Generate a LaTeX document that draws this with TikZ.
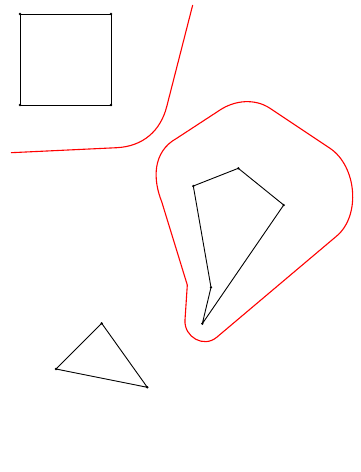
\documentclass[tikz,border=0pt]{standalone}
\begin{document}
\begin{tikzpicture}[x=1pt,y=-1pt,
  poly/.style={draw=black,line width=0.9pt,line join=round},
  redline/.style={draw=red,line width=1.1pt},
  vdot/.style={circle,fill=black,inner sep=0pt,minimum size=2.6pt}]
\useasboundingbox (0,0) rectangle (360,472);
% square
\node[vdot] (s1) at (20,14) {};
\node[vdot] (s2) at (111,14) {};
\node[vdot] (s3) at (111,105) {};
\node[vdot] (s4) at (20,105) {};
\draw[poly] (s1.center) -- (s2.center) -- (s3.center) -- (s4.center) -- cycle;
% quadrilateral
\node[vdot] (q1) at (193.3,186) {};
\node[vdot] (q2) at (238.3,168.3) {};
\node[vdot] (q3) at (283.7,205) {};
\node[vdot] (q4) at (202.3,323.7) {};
\node[vdot] (q5) at (211,287.3) {};
\draw[poly] (q1.center) -- (q2.center) -- (q3.center) -- (q4.center) -- (q5.center) -- cycle;
% triangle
\node[vdot] (t1) at (101.7,323.3) {};
\node[vdot] (t2) at (56,369) {};
\node[vdot] (t3) at (147.3,387.3) {};
\draw[poly] (t1.center) -- (t2.center) -- (t3.center) -- cycle;
% red curve
\draw[redline] (11,152.7) -- (116.7,147.7) .. controls (143,146.4) and (160.5,130.9) .. (166.7,106.7) -- (192.7,5);
% red blob
\draw[redline] (176.7,138.3) -- (220,110)
  .. controls (235,100.1) and (255,98.3) .. (270,108.3)
  -- (330,148.3)
  .. controls (356.6,166.1) and (361.1,215.4) .. (336.7,236)
  -- (216.7,337.3)
  .. controls (203.7,348.3) and (183.9,337) .. (185,320)
  -- (187.3,285) -- (161.7,201.7)
  .. controls (153,180) and (152,152) .. (176.7,138.3) -- cycle;
\end{tikzpicture}
\end{document}
